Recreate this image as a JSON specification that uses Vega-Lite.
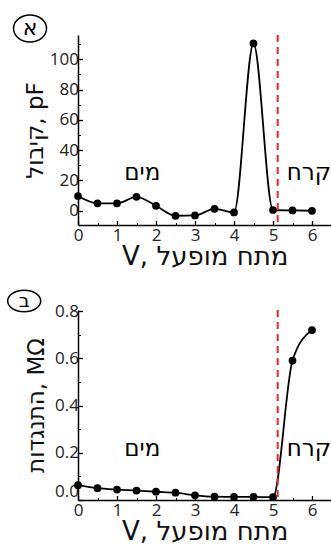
{
  "$schema": "https://vega.github.io/schema/vega-lite/v6.json",
  "padding": {"left": 4, "top": 11, "right": 0, "bottom": 0},
  "bounds": "flush",
  "spacing": 85,
  "config": {
    "view": {"stroke": null},
    "font": "DejaVu Sans",
    "axis": {"grid": false, "labelColor": "#222", "titleColor": "#111", "titleFontWeight": "normal", "domainColor": "black", "tickColor": "black", "labelFont": "Open Sans", "titleFont": "DejaVu Sans"}
  },
  "datasets": {
    "cap": [
      {"x": 0, "y": 9.7}, {"x": 0.5, "y": 4.9}, {"x": 1, "y": 4.9}, {"x": 1.5, "y": 9.2},
      {"x": 2, "y": 3.3}, {"x": 2.5, "y": -3.3}, {"x": 3, "y": -3.1}, {"x": 3.5, "y": 1.3},
      {"x": 4, "y": -1.1}, {"x": 4.5, "y": 110.4}, {"x": 5, "y": 0.5}, {"x": 5.5, "y": 0.2}, {"x": 6, "y": 0}
    ],
    "res": [
      {"x": 0, "y": 0.063}, {"x": 0.5, "y": 0.05}, {"x": 1, "y": 0.044}, {"x": 1.5, "y": 0.04},
      {"x": 2, "y": 0.035}, {"x": 2.5, "y": 0.031}, {"x": 3, "y": 0.02}, {"x": 3.5, "y": 0.014},
      {"x": 4, "y": 0.013}, {"x": 4.5, "y": 0.013}, {"x": 5, "y": 0.012}, {"x": 5.5, "y": 0.591}, {"x": 6, "y": 0.72}
    ]
  },
  "vconcat": [
    {
      "width": 253.5,
      "height": 190,
      "resolve": {"axis": {"x": "independent", "y": "independent"}},
      "layer": [
        {
          "data": {"name": "cap"},
          "mark": {"type": "line", "interpolate": "monotone", "color": "black", "strokeWidth": 1.8},
          "encoding": {
            "x": {"field": "x", "type": "quantitative", "scale": {"domain": [0, 6.5], "nice": false, "zero": false},
              "axis": {"orient": "bottom", "values": [0, 1, 2, 3, 4, 5, 6], "tickSize": -4.5, "tickWidth": 1.3, "domainWidth": 1.5, "labelFontSize": 17, "labelPadding": 7, "labelFlush": false, "labelOverlap": false, "title": "V, מתח מופעל", "titleFontSize": 26, "titlePadding": 0}},
            "y": {"field": "y", "type": "quantitative", "scale": {"domain": [-9.4, 116], "nice": false, "zero": false},
              "axis": {"orient": "left", "values": [0, 20, 40, 60, 80, 100], "tickSize": -4.5, "tickWidth": 1.3, "domainWidth": 1.5, "labelFontSize": 17, "labelPadding": 4, "labelFlush": false, "labelOverlap": false, "title": "קיבול, pF", "titleFontSize": 23, "titlePadding": 2}}
          }
        },
        {
          "data": {"name": "cap"},
          "mark": {"type": "point", "filled": true, "color": "black", "opacity": 1, "size": 60},
          "encoding": {
            "x": {"field": "x", "type": "quantitative", "scale": {"domain": [0, 6.5], "nice": false, "zero": false}, "axis": null},
            "y": {"field": "y", "type": "quantitative", "scale": {"domain": [-9.4, 116], "nice": false, "zero": false}, "axis": null}
          }
        },
        {
          "data": {"values": [{"x": 5.12}]},
          "mark": {"type": "rule", "color": "#e8262d", "strokeWidth": 2, "strokeDash": [7, 5]},
          "encoding": {
            "x": {"field": "x", "type": "quantitative", "scale": {"domain": [0, 6.5], "nice": false, "zero": false}, "axis": null}
          }
        },
        {
          "data": {"values": [{"x": 1.65, "y": 25, "label": "מים"}, {"x": 5.92, "y": 25, "label": "קרח"}]},
          "mark": {"type": "text", "fontSize": 23, "color": "black", "align": "center", "baseline": "middle"},
          "encoding": {
            "x": {"field": "x", "type": "quantitative", "scale": {"domain": [0, 6.5], "nice": false, "zero": false}, "axis": null},
            "y": {"field": "y", "type": "quantitative", "scale": {"domain": [-9.4, 116], "nice": false, "zero": false}, "axis": null},
            "text": {"field": "label"}
          }
        },
        {
          "data": {"values": [{"x": -1.23, "y": 120.3, "label": "א"}]},
          "mark": {"type": "point", "shape": "M-1,0A1,0.82,0,1,1,1,0A1,0.82,0,1,1,-1,0Z", "size": 1089, "filled": false, "stroke": "black", "strokeWidth": 1.5, "opacity": 1},
          "encoding": {
            "x": {"field": "x", "type": "quantitative", "scale": {"domain": [0, 6.5], "nice": false, "zero": false}, "axis": null},
            "y": {"field": "y", "type": "quantitative", "scale": {"domain": [-9.4, 116], "nice": false, "zero": false}, "axis": null}
          }
        },
        {
          "data": {"values": [{"x": -1.23, "y": 120.3, "label": "א"}]},
          "mark": {"type": "text", "fontSize": 22, "color": "black", "align": "center", "baseline": "middle"},
          "encoding": {
            "x": {"field": "x", "type": "quantitative", "scale": {"domain": [0, 6.5], "nice": false, "zero": false}, "axis": null},
            "y": {"field": "y", "type": "quantitative", "scale": {"domain": [-9.4, 116], "nice": false, "zero": false}, "axis": null},
            "text": {"field": "label"}
          }
        },
        {
          "data": {"name": "cap"},
          "mark": {"type": "point", "opacity": 0},
          "encoding": {
            "x": {"field": "x", "type": "quantitative", "scale": {"domain": [0, 6.5], "nice": false, "zero": false},
              "axis": {"orient": "bottom", "values": [0.5, 1.5, 2.5, 3.5, 4.5, 5.5], "labels": false, "domain": false, "tickSize": -2.5, "tickWidth": 1, "title": null}},
            "y": {"field": "y", "type": "quantitative", "scale": {"domain": [-9.4, 116], "nice": false, "zero": false},
              "axis": {"orient": "left", "values": [10, 30, 50, 70, 90, 110], "labels": false, "domain": false, "tickSize": -2.5, "tickWidth": 1, "title": null}}
          }
        }
      ]
    },
    {
      "width": 253.5,
      "height": 190,
      "resolve": {"axis": {"x": "independent", "y": "independent"}},
      "layer": [
        {
          "data": {"name": "res"},
          "mark": {"type": "line", "interpolate": "monotone", "color": "black", "strokeWidth": 1.8},
          "encoding": {
            "x": {"field": "x", "type": "quantitative", "scale": {"domain": [0, 6.5], "nice": false, "zero": false},
              "axis": {"orient": "bottom", "values": [0, 1, 2, 3, 4, 5, 6], "tickSize": -4.5, "tickWidth": 1.3, "domainWidth": 1.5, "labelFontSize": 17, "labelPadding": 7, "labelFlush": false, "labelOverlap": false, "title": "V, מתח מופעל", "titleFontSize": 26, "titlePadding": 0}},
            "y": {"field": "y", "type": "quantitative", "scale": {"domain": [0, 0.805], "nice": false, "zero": false},
              "axis": {"orient": "left", "values": [0, 0.2, 0.4, 0.6, 0.8], "format": ".1f", "tickSize": -4.5, "tickWidth": 1.3, "domainWidth": 1.5, "labelFontSize": 17, "labelPadding": 4, "labelFlush": true, "labelOverlap": false, "title": "התנגדות, MΩ", "titleFontSize": 23, "titlePadding": 6}}
          }
        },
        {
          "data": {"name": "res"},
          "mark": {"type": "point", "filled": true, "color": "black", "opacity": 1, "size": 60},
          "encoding": {
            "x": {"field": "x", "type": "quantitative", "scale": {"domain": [0, 6.5], "nice": false, "zero": false}, "axis": null},
            "y": {"field": "y", "type": "quantitative", "scale": {"domain": [0, 0.805], "nice": false, "zero": false}, "axis": null}
          }
        },
        {
          "data": {"values": [{"x": 5.12}]},
          "mark": {"type": "rule", "color": "#e8262d", "strokeWidth": 2, "strokeDash": [7, 5]},
          "encoding": {
            "x": {"field": "x", "type": "quantitative", "scale": {"domain": [0, 6.5], "nice": false, "zero": false}, "axis": null}
          }
        },
        {
          "data": {"values": [{"x": 1.65, "y": 0.214, "label": "מים"}, {"x": 5.92, "y": 0.214, "label": "קרח"}]},
          "mark": {"type": "text", "fontSize": 23, "color": "black", "align": "center", "baseline": "middle"},
          "encoding": {
            "x": {"field": "x", "type": "quantitative", "scale": {"domain": [0, 6.5], "nice": false, "zero": false}, "axis": null},
            "y": {"field": "y", "type": "quantitative", "scale": {"domain": [0, 0.805], "nice": false, "zero": false}, "axis": null},
            "text": {"field": "label"}
          }
        },
        {
          "data": {"values": [{"x": -1.38, "y": 0.843, "label": "ב"}]},
          "mark": {"type": "point", "shape": "M-1,0A1,0.65,0,1,1,1,0A1,0.65,0,1,1,-1,0Z", "size": 1089, "filled": false, "stroke": "black", "strokeWidth": 1.5, "opacity": 1},
          "encoding": {
            "x": {"field": "x", "type": "quantitative", "scale": {"domain": [0, 6.5], "nice": false, "zero": false}, "axis": null},
            "y": {"field": "y", "type": "quantitative", "scale": {"domain": [0, 0.805], "nice": false, "zero": false}, "axis": null}
          }
        },
        {
          "data": {"values": [{"x": -1.38, "y": 0.843, "label": "ב"}]},
          "mark": {"type": "text", "fontSize": 19, "color": "black", "align": "center", "baseline": "middle"},
          "encoding": {
            "x": {"field": "x", "type": "quantitative", "scale": {"domain": [0, 6.5], "nice": false, "zero": false}, "axis": null},
            "y": {"field": "y", "type": "quantitative", "scale": {"domain": [0, 0.805], "nice": false, "zero": false}, "axis": null},
            "text": {"field": "label"}
          }
        },
        {
          "data": {"name": "res"},
          "mark": {"type": "point", "opacity": 0},
          "encoding": {
            "x": {"field": "x", "type": "quantitative", "scale": {"domain": [0, 6.5], "nice": false, "zero": false},
              "axis": {"orient": "bottom", "values": [0.5, 1.5, 2.5, 3.5, 4.5, 5.5], "labels": false, "domain": false, "tickSize": -2.5, "tickWidth": 1, "title": null}},
            "y": {"field": "y", "type": "quantitative", "scale": {"domain": [0, 0.805], "nice": false, "zero": false},
              "axis": {"orient": "left", "values": [0.1, 0.3, 0.5, 0.7], "labels": false, "domain": false, "tickSize": -2.5, "tickWidth": 1, "title": null}}
          }
        }
      ]
    }
  ]
}
